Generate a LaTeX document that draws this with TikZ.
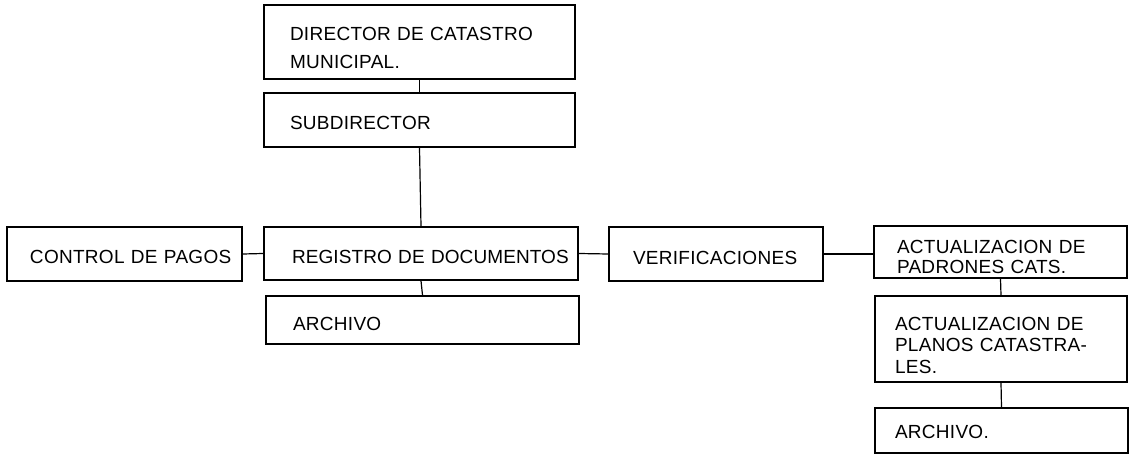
\documentclass[tikz,border=0pt]{standalone}
\usepackage{fontspec}
\setmainfont{Liberation Sans}[LetterSpace=1.5]
\newcommand{\boxtxt}[3]{\hspace*{#1}\raisebox{#2}[\height][\depth]{\begin{tabular}{@{}l@{}}#3\end{tabular}}}
\begin{document}
\begin{tikzpicture}[x=1pt,y=1pt,
  box/.style={draw, line width=1.8pt, rectangle, inner xsep=0pt, inner ysep=0pt,
    align=left, anchor=center, font=\fontsize{19}{22}\selectfont},
  link/.style={line width=1.2pt}]
\useasboundingbox (0,0) rectangle (1136,455);
\node[box, minimum width=311pt, minimum height=74pt, text width=311pt,
  font=\fontsize{19}{28}\selectfont] (dir) at (419.5,413)
  {\boxtxt{26pt}{-6.5pt}{DIRECTOR DE CATASTRO\\MUNICIPAL.}};
\node[box, minimum width=311pt, minimum height=54pt, text width=311pt] (sub) at (419.5,335)
  {\boxtxt{26pt}{-5.5pt}{SUBDIRECTOR}};
\node[box, minimum width=235pt, minimum height=54pt, text width=235pt] (ctrl) at (124.5,201)
  {\boxtxt{23pt}{-5.5pt}{CONTROL DE PAGOS}};
\node[box, minimum width=314pt, minimum height=53pt, text width=314pt] (reg) at (421,201.5)
  {\boxtxt{28pt}{-5.5pt}{\addfontfeature{LetterSpace=0.5}REGISTRO DE DOCUMENTOS}};
\node[box, minimum width=313pt, minimum height=48pt, text width=313pt] (arch) at (422.5,135)
  {\boxtxt{27pt}{-6pt}{ARCHIVO}};
\node[box, minimum width=214pt, minimum height=54pt, text width=214pt] (ver) at (716,201)
  {\boxtxt{24pt}{-6pt}{VERIFICACIONES}};
\node[box, minimum width=253pt, minimum height=52pt, text width=253pt,
  font=\fontsize{19}{19.5}\selectfont] (pad) at (1000.5,203)
  {\boxtxt{23pt}{-7.5pt}{ACTUALIZACION DE\\PADRONES CATS.}};
\node[box, minimum width=252pt, minimum height=86pt, text width=252pt,
  font=\fontsize{19}{21.5}\selectfont] (plan) at (1001,116)
  {\boxtxt{20pt}{-8.5pt}{ACTUALIZACION DE\\PLANOS CATASTRA-\\LES.}};
\node[box, minimum width=253pt, minimum height=45pt, text width=253pt] (arch2) at (1001.5,24.5)
  {\boxtxt{20pt}{-3.5pt}{ARCHIVO.}};
\draw[link] (dir.south) -- (sub.north);
\draw[link] (sub.south) -- (reg.north);
\draw[link] (ctrl.east) -- (reg.west);
\draw[link] (reg.east) -- (ver.west);
\draw[link] (ver.east) -- (pad.west |- ver.east);
\draw[link] (reg.south) -- (arch.north);
\draw[link] (pad.south) -- (plan.north);
\draw[link] (plan.south) -- (arch2.north);
\end{tikzpicture}
\end{document}
